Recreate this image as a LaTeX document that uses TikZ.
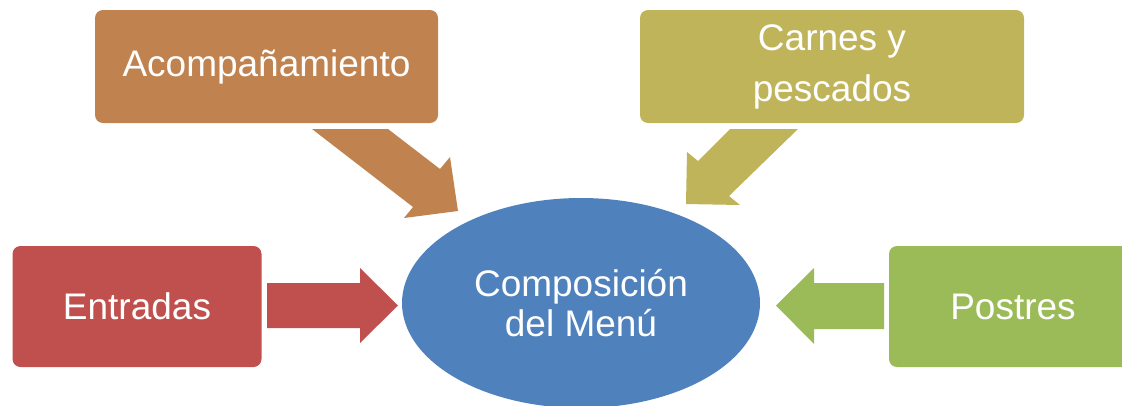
\documentclass[tikz,border=0pt]{standalone}
\usepackage{fontspec}
\setmainfont{Liberation Sans}
\usepackage{xcolor}
\usetikzlibrary{shapes,positioning,calc}

\definecolor{acompColor}{HTML}{C0824F}
\definecolor{carnesColor}{HTML}{C0B45A}
\definecolor{entradasColor}{HTML}{C0504D}
\definecolor{postresColor}{HTML}{9BBB59}
\definecolor{menuColor}{HTML}{4F81BD}

\begin{document}
\begin{tikzpicture}[x=1pt,y=-1pt,
  menu box/.style={rectangle, rounded corners=8pt, draw=none, inner sep=0pt, align=center,
    text=white, font=\fontsize{37}{40}\selectfont},
  menu center/.style={ellipse, draw=none, fill=menuColor, inner sep=0pt, align=center,
    text=white, font=\fontsize{37}{40}\selectfont, minimum width=358pt, minimum height=210pt},
  block arrow/.style={draw=none}]

  \useasboundingbox (0,0) rectangle (1122,405);

  \node [menu center] (menu) at (581,303) {Composición\\del Menú};

  \node [menu box, fill=acompColor, minimum width=343pt, minimum height=113pt] (acomp) at (266.5,66.5) {Acompañamiento};
  \node [menu box, fill=carnesColor, minimum width=384pt, minimum height=113pt] (carnes) at (832,66.5) {Carnes y\\[11pt]pescados};
  \node [menu box, fill=entradasColor, minimum width=249pt, minimum height=121pt] (entradas) at (137,306.5) {Entradas};
  \node [menu box, fill=postresColor, minimum width=248pt, minimum height=121pt] (postres) at (1013,306.5) {Postres};

  % block arrows towards the centre
  \fill [block arrow, acompColor] (312,129) -- (388,129) -- (440,169) -- (450,157) -- (458,211) -- (404,218) -- (413,207) -- cycle;
  \fill [block arrow, carnesColor] (730,129) -- (798,129) -- (729,196) -- (740,205) -- (686,204) -- (687,152) -- (698,161) -- cycle;
  \fill [block arrow, entradasColor] (267,283) -- (360,283) -- (360,268) -- (398,305.5) -- (360,343) -- (360,328) -- (267,328) -- cycle;
  \fill [block arrow, postresColor] (884,283) -- (814,283) -- (814,268) -- (776,305.5) -- (814,344) -- (814,329) -- (884,329) -- cycle;
\end{tikzpicture}
\end{document}
